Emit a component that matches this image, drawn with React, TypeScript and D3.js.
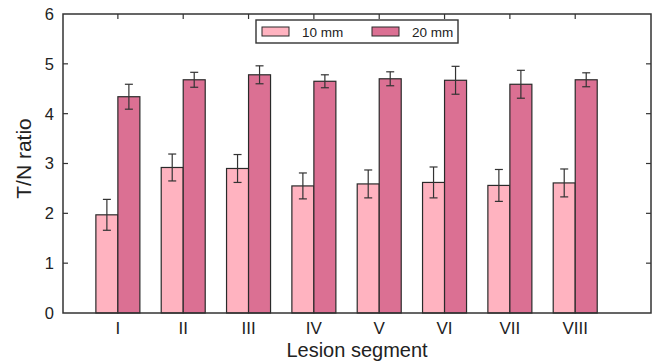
import React, { useEffect, useRef } from 'react';
import * as d3 from 'd3';

const segments = ["I", "II", "III", "IV", "V", "VI", "VII", "VIII"];
const series = ["10 mm", "20 mm"];
const mean10 = [1.97, 2.92, 2.9, 2.55, 2.59, 2.62, 2.56, 2.61];
const err10 = [0.31, 0.27, 0.28, 0.26, 0.28, 0.31, 0.32, 0.28];
const mean20 = [4.34, 4.68, 4.78, 4.65, 4.7, 4.67, 4.59, 4.68];
const err20 = [0.25, 0.15, 0.18, 0.13, 0.14, 0.28, 0.28, 0.14];
const yTicks = [0, 1, 2, 3, 4, 5, 6];

const colors = ["#ffb3c0", "#db7093"];
const FONT = "'Liberation Sans', Arial, Helvetica, sans-serif";

const App = () => {
  const svgRef = useRef<SVGSVGElement>(null);

  useEffect(() => {
    document.body.style.margin = "0";
    const W = 657, H = 363;
    const margin = { top: 14, right: 6, bottom: 50, left: 63 };
    const width = W - margin.left - margin.right;
    const height = H - margin.top - margin.bottom;

    const svgEl = d3.select(svgRef.current);
    svgEl.selectAll("*").remove();
    svgEl.attr("width", W).attr("height", H);

    const svg = svgEl.append("g").attr("transform", `translate(${margin.left},${margin.top})`);

    // category positions: 1..8 on a linear axis with extra room on the right
    const x = d3.scaleLinear().domain([0.16, 9.16]).range([0, width]);
    const y = d3.scaleLinear().domain([0, 6]).range([height, 0]);
    const barW = 22;

    const data = segments.map((s, i) => ({
      seg: s, pos: i + 1,
      vals: [{ m: mean10[i], e: err10[i] }, { m: mean20[i], e: err20[i] }]
    }));

    // bars
    data.forEach(d => {
      d.vals.forEach((v, k) => {
        const x0 = x(d.pos) + (k === 0 ? -barW : 0);
        svg.append("rect")
          .attr("x", x0).attr("y", y(v.m))
          .attr("width", barW).attr("height", y(0) - y(v.m))
          .attr("fill", colors[k]).attr("stroke", "#2a2a2a").attr("stroke-width", 1.2);
      });
    });

    // error bars
    data.forEach(d => {
      d.vals.forEach((v, k) => {
        const cx = x(d.pos) + (k === 0 ? -barW / 2 : barW / 2);
        const g = svg.append("g").attr("stroke", "#333").attr("stroke-width", 1.2);
        g.append("line").attr("x1", cx).attr("x2", cx).attr("y1", y(v.m + v.e)).attr("y2", y(v.m - v.e));
        g.append("line").attr("x1", cx - 4).attr("x2", cx + 4).attr("y1", y(v.m + v.e)).attr("y2", y(v.m + v.e));
        g.append("line").attr("x1", cx - 4).attr("x2", cx + 4).attr("y1", y(v.m - v.e)).attr("y2", y(v.m - v.e));
      });
    });

    // frame
    svg.append("rect").attr("width", width).attr("height", height)
      .attr("fill", "none").attr("stroke", "#333").attr("stroke-width", 1.5);

    // ticks (inward)
    const tk = svg.append("g").attr("stroke", "#333").attr("stroke-width", 1.2);
    yTicks.slice(1, -1).forEach(t => {
      tk.append("line").attr("x1", 0).attr("x2", 5).attr("y1", y(t)).attr("y2", y(t));
      tk.append("line").attr("x1", width).attr("x2", width - 5).attr("y1", y(t)).attr("y2", y(t));
    });
    data.forEach(d => {
      tk.append("line").attr("x1", x(d.pos)).attr("x2", x(d.pos)).attr("y1", 0).attr("y2", 5);
    });

    // y tick labels
    svg.append("g").selectAll("text").data(yTicks).enter().append("text")
      .attr("x", -9).attr("y", d => y(d)).attr("dy", "0.36em")
      .attr("text-anchor", "end").attr("font-family", FONT).attr("font-size", 16.5).attr("fill", "#222")
      .text(d => d);

    // x tick labels
    svg.append("g").selectAll("text").data(data).enter().append("text")
      .attr("x", d => x(d.pos)).attr("y", height + 21)
      .attr("text-anchor", "middle").attr("font-family", FONT).attr("font-size", 17).attr("fill", "#222")
      .text(d => d.seg);

    // axis titles
    svg.append("text").attr("x", width / 2).attr("y", height + 44)
      .attr("text-anchor", "middle").attr("font-family", FONT).attr("font-size", 20).attr("fill", "#222")
      .text("Lesion segment");
    svg.append("text")
      .attr("transform", `translate(${-32},${height / 2 - 5}) rotate(-90)`)
      .attr("text-anchor", "middle").attr("font-family", FONT).attr("font-size", 21).attr("fill", "#222")
      .text("T/N ratio");

    // legend
    const legend = svg.append("g").attr("transform", `translate(${256 - margin.left},${20 - margin.top})`);
    legend.append("rect").attr("width", 202).attr("height", 23)
      .attr("fill", "#fff").attr("stroke", "#333").attr("stroke-width", 1.4);
    series.forEach((s, k) => {
      const row = legend.append("g").attr("transform", `translate(${6 + k * 110},0)`);
      row.append("rect").attr("x", 0).attr("y", 7).attr("width", 27).attr("height", 9)
        .attr("fill", colors[k]).attr("stroke", "#2a2a2a").attr("stroke-width", 1);
      row.append("text").attr("x", 40).attr("y", 16.5)
        .attr("font-family", FONT).attr("font-size", 13.5).attr("fill", "#222").text(s);
    });
  }, []);

  return <svg ref={svgRef}></svg>;
};

export default App;
